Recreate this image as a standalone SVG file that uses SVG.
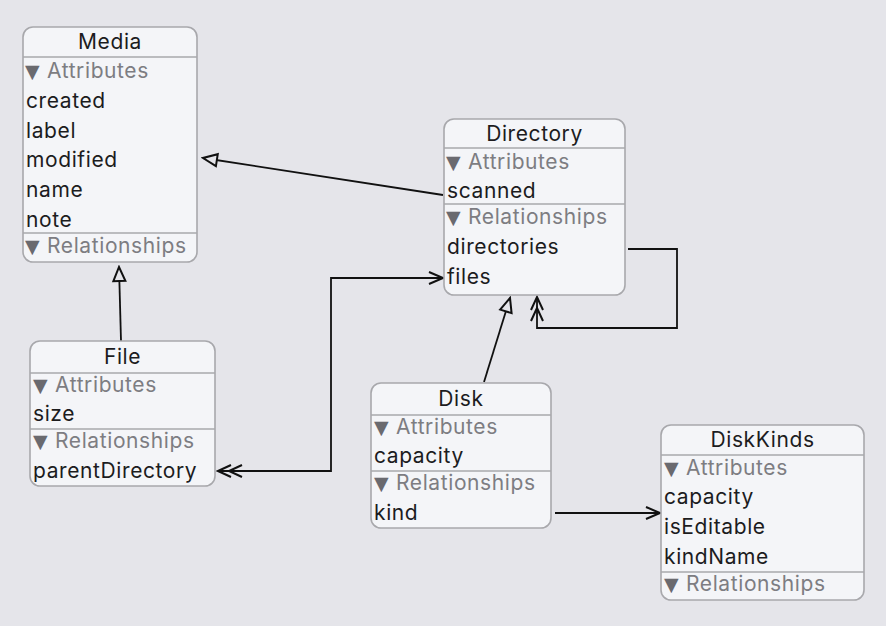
<svg xmlns="http://www.w3.org/2000/svg" width="886" height="626" viewBox="0 0 886 626">
<style>
.box{fill:#f4f5f8;stroke:#a8a8ac;stroke-width:1.6}
.sep{stroke:#a8a8ac;stroke-width:1.6}
text{font-family:Inter,"Liberation Sans",sans-serif;font-size:21px;letter-spacing:0.6px;fill:#1c1c1e}
.t{text-anchor:middle}
.h{fill:#7d7d82}
.tri{font-family:"DejaVu Sans",sans-serif;font-size:19px;letter-spacing:0;fill:#6a6a6f}
.c{fill:none;stroke:#111;stroke-width:1.8}
</style>
<defs>
<marker id="inh" markerUnits="userSpaceOnUse" markerWidth="18" markerHeight="16" viewBox="-2 -2 18 16" refX="14" refY="6" orient="auto-start-reverse"><path d="M0,0 L14,6 L0,12 Z" fill="#e5e5ea" stroke="#111" stroke-width="2"/></marker>
<marker id="arr" markerUnits="userSpaceOnUse" markerWidth="18" markerHeight="16" viewBox="-2 -2 18 16" refX="14" refY="6" orient="auto-start-reverse"><path d="M0,0 L14,6 L0,12" fill="none" stroke="#111" stroke-width="2"/></marker>
<marker id="dbl" markerUnits="userSpaceOnUse" markerWidth="28" markerHeight="16" viewBox="-2 -2 28 16" refX="24" refY="6" orient="auto-start-reverse"><path d="M0,0 L13,6 L0,12 M11,0 L24,6 L11,12" fill="none" stroke="#111" stroke-width="2"/></marker>
</defs>
<rect width="886" height="626" fill="#e5e5ea"/>
<g id="connectors">
<path class="c" d="M443,195 L203,158" marker-end="url(#inh)"/>
<path class="c" d="M121,341 L119,267" marker-end="url(#inh)"/>
<path class="c" d="M218,471 L331,471 L331,278 L443,278" marker-start="url(#dbl)" marker-end="url(#arr)"/>
<path class="c" d="M484,382 L510,298" marker-end="url(#inh)"/>
<path class="c" d="M628,249 L677,249 L677,328 L537,328 L537,297" marker-end="url(#dbl)"/>
<path class="c" d="M555,513 L660,513" marker-end="url(#arr)"/>
</g>
<g id="Media">
<rect class="box" x="23" y="27" width="174" height="235" rx="10"/>
<line class="sep" x1="23" y1="57" x2="197" y2="57"/>
<line class="sep" x1="23" y1="233" x2="197" y2="233"/>
<text class="t" x="110" y="49">Media</text>
<text class="tri" x="25" y="78">▼</text><text class="h" x="47" y="78">Attributes</text>
<text x="26" y="108">created</text>
<text x="26" y="138">label</text>
<text x="26" y="167">modified</text>
<text x="26" y="197">name</text>
<text x="26" y="227">note</text>
<text class="tri" x="25" y="253">▼</text><text class="h" x="47" y="253">Relationships</text>
</g>
<g id="Directory">
<rect class="box" x="444" y="119" width="181" height="176" rx="10"/>
<line class="sep" x1="444" y1="148" x2="625" y2="148"/>
<line class="sep" x1="444" y1="204" x2="625" y2="204"/>
<text class="t" x="534.5" y="141">Directory</text>
<text class="tri" x="446" y="169">▼</text><text class="h" x="468" y="169">Attributes</text>
<text x="447" y="198">scanned</text>
<text class="tri" x="446" y="224">▼</text><text class="h" x="468" y="224">Relationships</text>
<text x="447" y="254">directories</text>
<text x="447" y="284">files</text>
</g>
<g id="File">
<rect class="box" x="30" y="341" width="185" height="145" rx="10"/>
<line class="sep" x1="30" y1="373" x2="215" y2="373"/>
<line class="sep" x1="30" y1="429" x2="215" y2="429"/>
<text class="t" x="122.5" y="364">File</text>
<text class="tri" x="33" y="392">▼</text><text class="h" x="55" y="392">Attributes</text>
<text x="33" y="421">size</text>
<text class="tri" x="33" y="448">▼</text><text class="h" x="55" y="448">Relationships</text>
<text x="33" y="478">parentDirectory</text>
</g>
<g id="Disk">
<rect class="box" x="371" y="383" width="180" height="145" rx="10"/>
<line class="sep" x1="371" y1="415" x2="551" y2="415"/>
<line class="sep" x1="371" y1="471" x2="551" y2="471"/>
<text class="t" x="461" y="406">Disk</text>
<text class="tri" x="374" y="434">▼</text><text class="h" x="396" y="434">Attributes</text>
<text x="374" y="463">capacity</text>
<text class="tri" x="374" y="490">▼</text><text class="h" x="396" y="490">Relationships</text>
<text x="374" y="520">kind</text>
</g>
<g id="DiskKinds">
<rect class="box" x="661" y="425" width="203" height="175" rx="10"/>
<line class="sep" x1="661" y1="455" x2="864" y2="455"/>
<line class="sep" x1="661" y1="572" x2="864" y2="572"/>
<text class="t" x="762.5" y="447">DiskKinds</text>
<text class="tri" x="664" y="475">▼</text><text class="h" x="686" y="475">Attributes</text>
<text x="664" y="504">capacity</text>
<text x="664" y="534">isEditable</text>
<text x="664" y="564">kindName</text>
<text class="tri" x="664" y="591">▼</text><text class="h" x="686" y="591">Relationships</text>
</g>
</svg>
